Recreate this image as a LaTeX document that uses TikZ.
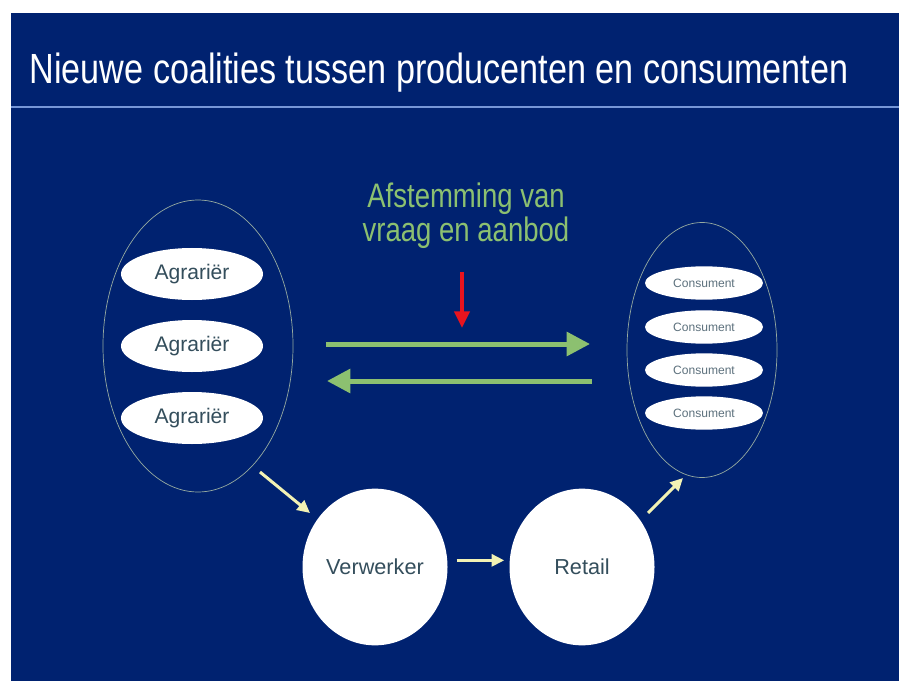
\documentclass[tikz,border=0pt]{standalone}
\usepackage{fontspec}
\setmainfont{Liberation Sans}
\newfontfamily\narrowfont[FakeStretch=0.81]{Liberation Sans}
\usetikzlibrary{shapes.geometric,arrows.meta}
\definecolor{slideblue}{RGB}{0,34,112}
\definecolor{ruleblue}{RGB}{118,150,214}
\definecolor{ringgray}{RGB}{150,170,160}
\definecolor{leafgreen}{RGB}{140,192,112}
\definecolor{pointred}{RGB}{232,20,30}
\definecolor{paleyellow}{RGB}{242,242,180}
\definecolor{labelslate}{RGB}{52,78,92}
\begin{document}
\begin{tikzpicture}[x=0.03cm, y=-0.03cm,
  ring/.style = {draw=ringgray, line width=0.6pt, ellipse, inner sep=0pt},
  actor/.style = {fill=white, ellipse, inner sep=0pt, text=labelslate, font=\fontsize{18}{20}\selectfont, minimum width=4.26cm, minimum height=1.56cm},
  buyer/.style = {fill=white, ellipse, inner sep=0pt, text=labelslate!80, font=\fontsize{10.3}{12}\selectfont, minimum width=3.54cm, minimum height=1cm},
  chain/.style = {fill=white, ellipse, inner sep=0pt, text=labelslate, font=\fontsize{18.5}{20}\selectfont, minimum width=4.35cm, minimum height=4.7cm},
  flow/.style = {draw=leafgreen, line width=0.15cm, -{Triangle[length=0.7cm,width=0.7cm]}},
  hint/.style = {draw=pointred, line width=0.14cm, -{Triangle[length=0.5cm,width=0.45cm]}},
  step arrow/.style = {draw=paleyellow, line width=0.09cm, -{Triangle[length=0.38cm,width=0.36cm]}}]
  \useasboundingbox (0,0) rectangle (899,681);
  \fill[white] (0,0) rectangle (899,681);
  \fill[slideblue] (11,13) rectangle (899,681);
  \draw[ruleblue, line width=0.07cm] (11,107) -- (899,107);
  % title
  \node[text=white, font=\narrowfont\fontsize{36}{40}\selectfont, anchor=base] (title) at (439,84) {Nieuwe coalities tussen producenten en consumenten};
  % producers and consumers
  \node[ring, minimum width=5.7cm, minimum height=8.76cm] (L) at (198,346) {};
  \node[ring, minimum width=4.5cm, minimum height=7.65cm] (R) at (702,350) {};
  \node[actor] (a1) at (192,274) {Agrariër};
  \node[actor] (a2) at (192,346) {Agrariër};
  \node[actor] (a3) at (192,418) {Agrariër};
  \node[buyer] (c1) at (704,283) {Consument};
  \node[buyer] (c2) at (704,327) {Consument};
  \node[buyer] (c3) at (704,370) {Consument};
  \node[buyer] (c4) at (704,413) {Consument};
  % matching supply and demand
  \node[text=leafgreen, font=\narrowfont\fontsize{29}{29}\selectfont, align=center] (afst) at (466,216) {Afstemming van\\vraag en aanbod};
  \coordinate (r0) at (462,272);
  \coordinate (r1) at (462,328);
  \draw[hint] (r0) -- (r1);
  \coordinate (g1) at (326,344);
  \coordinate (g2) at (590,344);
  \coordinate (g3) at (592,381);
  \coordinate (g4) at (327,381);
  \draw[flow] (g1) -- (g2);
  \draw[flow] (g3) -- (g4);
  % chain
  \node[chain] (V) at (375,567) {Verwerker};
  \node[chain] (Rt) at (582,567) {Retail};
  \coordinate (y0) at (260,472);
  \coordinate (y1) at (310,513);
  \coordinate (y2) at (648,513);
  \coordinate (y3) at (683,478);
  \draw[step arrow] (y0) -- (y1);
  \draw[step arrow, shorten <=0.27cm, shorten >=0.15cm] ([yshift=0.2cm]V.east) -- ([yshift=0.2cm]Rt.west);
  \draw[step arrow] (y2) -- (y3);
\end{tikzpicture}
\end{document}
